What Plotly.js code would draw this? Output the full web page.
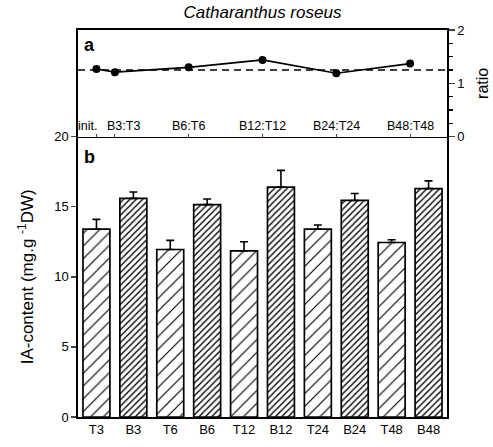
<!DOCTYPE html>
<html><head><meta charset="utf-8">
<script src="https://cdn.plot.ly/plotly-3.0.1.min.js"></script>
<style>body{margin:0;background:#fff}</style>
</head><body><div id="chart" style="width:493px;height:447px"></div>
<script>
const categories = ['T3','B3','T6','B6','T12','B12','T24','B24','T48','B48'];
const iaContent = [13.4,15.6,11.95,15.15,11.85,16.4,13.4,15.45,12.45,16.3];
const iaError = [0.7,0.45,0.65,0.4,0.65,1.2,0.3,0.5,0.2,0.55];
const ratioLabels = ['init.','B3:T3','B6:T6','B12:T12','B24:T24','B48:T48'];
const ratioValues = [1.27,1.21,1.30,1.44,1.19,1.37];
const refRatio = 1.25;
const leftTicks = [0,5,10,15,20];
const rightTicks = [0,1,2];

// x position of each ratio point: midpoint of its B and T bars (init. sits over T3)
const ratioX = ratioLabels.map(l => {
  if (l.indexOf(':') < 0) return categories.indexOf('T3');
  const [b, t] = l.split(':');
  return (categories.indexOf(b) + categories.indexOf(t)) / 2;
});

const FONT = 'Liberation Sans, Arial, sans-serif';
const isB = categories.map(c => c[0] === 'B');

const bars = {
  type: 'bar',
  x: categories.map((c, i) => i),
  y: iaContent,
  width: 0.73,
  xaxis: 'x', yaxis: 'y',
  marker: {
    color: '#fff',
    line: {color: '#000', width: 1.7},
    pattern: {
      shape: '/',
      fgcolor: '#000',
      bgcolor: '#fff',
      size: isB.map(b => b ? 4.5 : 9),
      solidity: isB.map(b => b ? 0.3 : 0.13)
    }
  },
  error_y: {
    type: 'data', symmetric: false,
    array: iaError, arrayminus: iaError.map(() => 0),
    color: '#000', thickness: 1.6, width: 4
  },
  hoverinfo: 'skip'
};

const ratioLine = {
  type: 'scatter', mode: 'lines+markers',
  x: ratioX, y: ratioValues,
  xaxis: 'x2', yaxis: 'y2',
  line: {color: '#000', width: 1.6},
  marker: {color: '#000', size: 8},
  hoverinfo: 'skip'
};

const split = (417 - 136.7) / 387;

const annotations = ratioLabels.map((l, i) => ({
  text: l, xref: 'x2', yref: 'y2', x: ratioX[i], y: 0,
  yanchor: 'bottom', xanchor: 'center', showarrow: false,
  yshift: 2, xshift: i === 0 ? -9 : (i === 1 ? 9 : 0),
  font: {family: FONT, size: 12.5, color: '#000'}
}));
annotations.push({text: '<b>a</b>', xref: 'paper', yref: 'paper', x: 0.03, y: 0.96,
  xanchor: 'center', yanchor: 'middle', showarrow: false, font: {family: FONT, size: 18, color: '#000'}});
annotations.push({text: '<b>b</b>', xref: 'paper', yref: 'paper', x: 0.03, y: (417 - 157) / 387,
  xanchor: 'center', yanchor: 'middle', showarrow: false, font: {family: FONT, size: 18, color: '#000'}});

const layout = {
  width: 493, height: 447,
  margin: {l: 78, r: 46, t: 30, b: 30},
  paper_bgcolor: '#fff', plot_bgcolor: '#fff',
  showlegend: false,
  font: {family: FONT, color: '#000', size: 13},
  title: {text: '<i>Catharanthus roseus</i>', xref: 'paper', x: 0.5, yref: 'container', y: 0.972,
    yanchor: 'middle', font: {family: FONT, size: 17, color: '#000'}},
  xaxis: {
    domain: [0, 1], anchor: 'y', range: [-0.5, 9.5],
    tickvals: categories.map((c, i) => i), ticktext: categories,
    ticks: '', showline: true, linewidth: 1.6, linecolor: '#000',
    showgrid: false, zeroline: false, tickfont: {size: 13}
  },
  yaxis: {
    domain: [0, split], anchor: 'x', range: [0, 20],
    tickvals: leftTicks, ticks: 'outside', ticklen: 5, tickwidth: 1.3,
    showline: true, mirror: true, linewidth: 1.6, linecolor: '#000',
    showgrid: false, zeroline: false, tickfont: {size: 13},
    title: {text: 'IA-content (mg.g <sup>-1</sup>DW)', standoff: 16, font: {size: 17}}
  },
  xaxis2: {
    domain: [0, 1], anchor: 'y2', range: [-0.5, 9.5],
    tickvals: ratioX, showticklabels: false, ticks: 'inside', ticklen: 3,
    showline: true, mirror: true, linewidth: 1.6, linecolor: '#000',
    showgrid: false, zeroline: false
  },
  yaxis2: {
    domain: [split, 1], anchor: 'x2', range: [0, 2], side: 'right',
    tickvals: rightTicks, ticks: 'outside', ticklen: 6, tickwidth: 1.3,
    minor: {tickmode: 'linear', tick0: 0, dtick: 0.25, ticks: 'outside', ticklen: 4, tickcolor: '#000'},
    showline: true, mirror: true, linewidth: 1.6, linecolor: '#000',
    showgrid: false, zeroline: false, tickfont: {size: 13},
    title: {text: 'ratio', standoff: 13, font: {size: 16}}
  },
  shapes: [{type: 'line', xref: 'x2 domain', yref: 'y2', x0: 0, x1: 1, y0: refRatio, y1: refRatio,
    line: {color: '#000', width: 1.5, dash: '7px,5px'}}],
  annotations: annotations
};

Plotly.newPlot('chart', [bars, ratioLine], layout, {displayModeBar: false, staticPlot: true});
</script></body></html>
